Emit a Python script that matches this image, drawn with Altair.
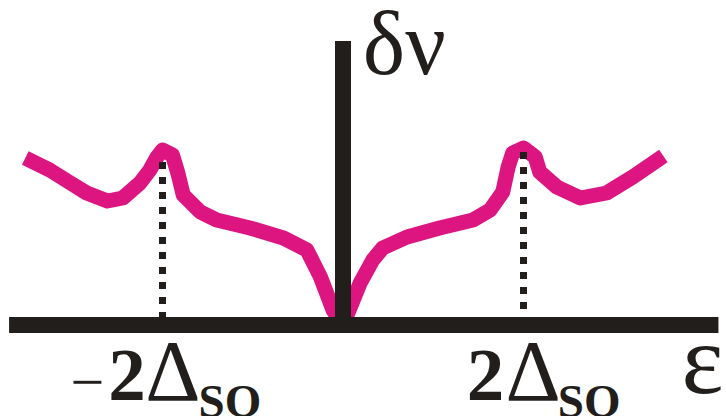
import altair as alt
import pandas as pd

# δν(ε): ε in units of Δ_SO, δν in arbitrary units
eps = [-3.52, -3.25, -3.02, -2.84, -2.61, -2.44, -2.25, -2.14, -2.06, -2.00,
       -1.89, -1.83, -1.77, -1.58, -1.40, -1.03, -0.66, -0.40, -0.25, -0.11, 0.00,
       0.10, 0.19, 0.33, 0.44, 0.71, 1.07, 1.44, 1.63, 1.77, 1.83,
       1.88, 2.00, 2.13, 2.18, 2.37, 2.63, 2.92, 3.21, 3.55]
dnu = [1.67, 1.55, 1.42, 1.32, 1.24, 1.27, 1.42, 1.55, 1.68, 1.75,
       1.70, 1.52, 1.30, 1.13, 1.05, 0.97, 0.87, 0.75, 0.48, 0.15, 0.00,
       0.22, 0.42, 0.65, 0.77, 0.88, 0.97, 1.05, 1.15, 1.33, 1.58,
       1.72, 1.77, 1.68, 1.53, 1.38, 1.27, 1.32, 1.48, 1.69]

# dotted drop lines at ε = ±2Δ_SO
drop_eps = [-2.0, 2.0]
drop_top = [1.63, 1.73]

# axis extents
x_axis = [-3.70, 4.16]
y_axis = [-0.08, 2.84]

# labels: text, anchor ε, anchor δν, font size
bold_text = ["2", "SO", "2", "SO"]
bold_x = [-2.60, -1.60, 1.37, 2.38]
bold_y = [-0.75, -0.915, -0.75, -0.915]
bold_fs = [75, 47, 75, 47]

reg_text = ["−", "Δ", "Δ", "ε", "δν"]
reg_x = [-3.02, -2.19, 1.80, 3.75, 0.22]
reg_y = [-0.765, -0.75, -0.75, -0.68, 2.51]
reg_fs = [60, 86, 86, 100, 90]

MAGENTA = "#DD1581"
BLACK = "#221E1C"
FONT = "Liberation Serif"

xs = alt.Scale(domain=[-3.8006, 4.2438], nice=False, zero=False)
ys = alt.Scale(domain=[-0.91, 3.25], nice=False, zero=False)

curve_df = pd.DataFrame({"i": range(len(eps)), "eps": eps, "dnu": dnu})
drop_df = pd.DataFrame({"eps": drop_eps, "top": drop_top, "base": [0.0, 0.0]})
hx_df = pd.DataFrame({"x0": [x_axis[0]], "x1": [x_axis[1]], "y": [0.0]})
vy_df = pd.DataFrame({"x": [0.0], "y0": [y_axis[0]], "y1": [y_axis[1]]})
bold_df = pd.DataFrame({"t": bold_text, "x": bold_x, "y": bold_y, "fs": bold_fs})
reg_df = pd.DataFrame({"t": reg_text, "x": reg_x, "y": reg_y, "fs": reg_fs})

curve = alt.Chart(curve_df).mark_line(
    color=MAGENTA, strokeWidth=15, strokeJoin="round", strokeCap="butt"
).encode(
    x=alt.X("eps:Q", scale=xs, axis=None),
    y=alt.Y("dnu:Q", scale=ys, axis=None),
    order="i:Q",
)

drops = alt.Chart(drop_df).mark_rule(
    color=BLACK, strokeWidth=7, strokeDash=[7, 8], strokeCap="butt"
).encode(
    x=alt.X("eps:Q", scale=xs),
    y=alt.Y("top:Q", scale=ys),
    y2="base:Q",
)

h_axis = alt.Chart(hx_df).mark_rule(color=BLACK, strokeWidth=16, strokeCap="butt").encode(
    x=alt.X("x0:Q", scale=xs), x2="x1:Q", y=alt.Y("y:Q", scale=ys)
)
v_axis = alt.Chart(vy_df).mark_rule(color=BLACK, strokeWidth=16, strokeCap="butt").encode(
    x=alt.X("x:Q", scale=xs), y=alt.Y("y0:Q", scale=ys), y2="y1:Q"
)

bold_lbl = alt.Chart(bold_df).mark_text(
    font=FONT, fontWeight="bold", align="left", baseline="alphabetic", color=BLACK
).encode(
    x=alt.X("x:Q", scale=xs), y=alt.Y("y:Q", scale=ys),
    text="t:N", size=alt.Size("fs:Q", scale=None),
)
reg_lbl = alt.Chart(reg_df).mark_text(
    font=FONT, align="left", baseline="alphabetic", color=BLACK
).encode(
    x=alt.X("x:Q", scale=xs), y=alt.Y("y:Q", scale=ys),
    text="t:N", size=alt.Size("fs:Q", scale=None),
)

chart = alt.layer(curve, drops, h_axis, v_axis, bold_lbl, reg_lbl).properties(
    width=726, height=416, padding=0, background="white",
    autosize=alt.AutoSizeParams(type="none"),
).configure_view(stroke=None)

chart.save("out.html", embed_options={"renderer": "svg", "actions": False})
